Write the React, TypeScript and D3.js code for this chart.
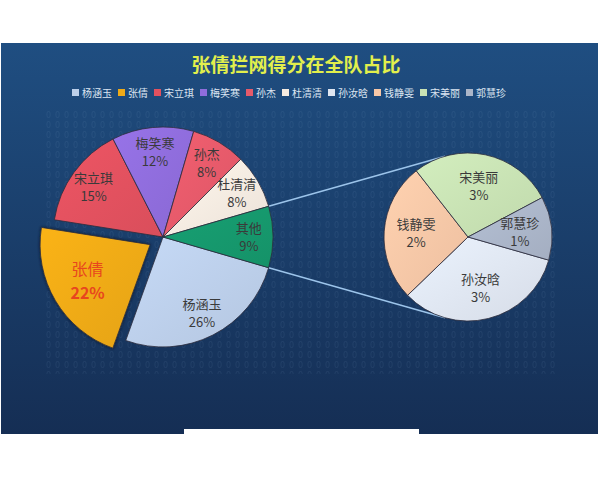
import React, { useEffect, useRef } from 'react';
import * as d3 from 'd3';

// chart data
const TITLE = "张倩拦网得分在全队占比";
const MAIN_NAMES = ["杨涵玉", "张倩", "宋立琪", "梅笑寒", "孙杰", "杜清清"];
const MAIN_VALUES = [26, 22, 15, 12, 8, 8];
const OTHER_LABEL = "其他";
const SUB_NAMES = ["孙汝晗", "钱静雯", "宋美丽", "郭慧珍"];
const SUB_VALUES = [3.0, 2.4, 2.5, 1.1];
const HIGHLIGHT = "张倩";

const COLORS: Record<string, string> = {
  "杨涵玉": "#bccfea",
  "张倩": "#eeaa18",
  "宋立琪": "#e2515f",
  "梅笑寒": "#8f6ddc",
  "孙杰": "#e65a6a",
  "杜清清": "#f5ebe1",
  "其他": "#16986d",
  "孙汝晗": "#dfe6f1",
  "钱静雯": "#f7c7a7",
  "宋美丽": "#c8e2b4",
  "郭慧珍": "#abb6c9",
};

const FONT = "'Noto Sans CJK SC', 'Noto Sans', sans-serif";

export default function App() {
  const svgRef = useRef<SVGSVGElement>(null);

  useEffect(() => {
    if (!svgRef.current) return;
    const svg = d3.select(svgRef.current);
    svg.selectAll("*").remove();

    const W = 600, H = 480;
    const defs = svg.append("defs");

    // background panel
    const bg = defs.append("linearGradient").attr("id", "bg")
      .attr("x1", 0).attr("y1", 0).attr("x2", 0).attr("y2", 1);
    bg.append("stop").attr("offset", "0%").attr("stop-color", "#1f4e81");
    bg.append("stop").attr("offset", "100%").attr("stop-color", "#152e54");

    const pat = defs.append("pattern").attr("id", "digits")
      .attr("width", 9).attr("height", 10).attr("patternUnits", "userSpaceOnUse");
    pat.append("text").attr("x", 1).attr("y", 8).text("0")
      .attr("fill", "#9ab8e0").attr("fill-opacity", 0.09)
      .style("font-size", "8px").style("font-family", "DejaVu Sans");

    defs.append("filter").attr("id", "shadow")
      .attr("x", "-20%").attr("y", "-20%").attr("width", "140%").attr("height", "140%")
      .append("feDropShadow").attr("dx", 0).attr("dy", 0).attr("stdDeviation", 1.6)
      .attr("flood-color", "#08162c").attr("flood-opacity", 0.9);

    svg.append("rect").attr("width", W).attr("height", H).attr("fill", "#fff");
    svg.append("rect").attr("x", 1).attr("y", 43).attr("width", 597).attr("height", 391)
      .attr("fill", "url(#bg)");
    svg.append("rect").attr("x", 184).attr("y", 429).attr("width", 235).attr("height", 6)
      .attr("fill", "#fff");
    svg.append("rect").attr("x", 46).attr("y", 108).attr("width", 510).attr("height", 266)
      .attr("fill", "url(#digits)");

    // title
    svg.append("text").attr("x", 296).attr("y", 72).attr("text-anchor", "middle")
      .text(TITLE)
      .attr("fill", "#e2ef4c")
      .style("font-size", "19px").style("font-weight", "bold").style("font-family", FONT);

    // legend
    const legendNames = MAIN_NAMES.concat(SUB_NAMES);
    const legend = svg.append("g");
    let lx = 0;
    legendNames.forEach(n => {
      const item = legend.append("g").attr("transform", `translate(${lx},0)`);
      item.append("rect").attr("x", 0).attr("y", -4).attr("width", 7).attr("height", 7)
        .attr("fill", COLORS[n]);
      const t = item.append("text").attr("x", 10).attr("y", 4).text(n)
        .attr("fill", "#dbe5f1")
        .style("font-size", "10px").style("font-family", FONT);
      const w = (t.node() as SVGTextElement).getComputedTextLength();
      lx += 10 + w + 6;
    });
    legend.attr("transform", `translate(${289 - (lx - 6) / 2},93)`);

    const total = d3.sum(MAIN_VALUES) + d3.sum(SUB_VALUES);
    const otherSum = d3.sum(SUB_VALUES);
    const pct = (v: number) => `${Math.round(v / total * 100)}%`;

    const mainData = MAIN_NAMES.map((n, i) => ({ name: n, value: MAIN_VALUES[i] }))
      .concat([{ name: OTHER_LABEL, value: otherSum }]);
    const subData = SUB_NAMES.map((n, i) => ({ name: n, value: SUB_VALUES[i] }));

    const cx1 = 163, cy1 = 237, r1 = 110;
    const cx2 = 468, cy2 = 237, r2 = 84;

    // "其他" slice is centered on the right side
    const start1 = Math.PI / 2 + Math.PI * otherSum / total;
    const start2 = 106 * Math.PI / 180;

    const pie1 = d3.pie<any>().value(d => d.value).sort(null)
      .startAngle(start1).endAngle(start1 + 2 * Math.PI);
    const pie2 = d3.pie<any>().value(d => d.value).sort(null)
      .startAngle(start2).endAngle(start2 + 2 * Math.PI);

    const arcs1 = pie1(mainData);
    const arcs2 = pie2(subData);

    // connector lines, tangent to second pie
    const other = arcs1.find(a => a.data.name === OTHER_LABEL)!;
    const onMain = (a: number) => [cx1 + r1 * Math.sin(a), cy1 - r1 * Math.cos(a)];
    const tangent = (p: number[], upper: boolean) => {
      const dx = p[0] - cx2, dy = p[1] - cy2;
      const d = Math.hypot(dx, dy);
      const th = Math.atan2(dy, dx);
      const al = Math.acos(r2 / d);
      const t1 = [cx2 + r2 * Math.cos(th + al), cy2 + r2 * Math.sin(th + al)];
      const t2 = [cx2 + r2 * Math.cos(th - al), cy2 + r2 * Math.sin(th - al)];
      return upper ? (t1[1] < t2[1] ? t1 : t2) : (t1[1] > t2[1] ? t1 : t2);
    };
    [[onMain(other.startAngle), true], [onMain(other.endAngle), false]].forEach(([p, up]: any) => {
      const t = tangent(p, up);
      svg.append("line")
        .attr("x1", p[0]).attr("y1", p[1]).attr("x2", t[0]).attr("y2", t[1])
        .attr("stroke", "#9cc4ea").attr("stroke-width", 1.5);
    });

    // slice gradients
    Object.keys(COLORS).forEach((n, i) => {
      const c = d3.color(COLORS[n])!;
      const g = defs.append("linearGradient").attr("id", `sg${i}`)
        .attr("x1", 0).attr("y1", 0).attr("x2", 1).attr("y2", 1);
      g.append("stop").attr("offset", "0%").attr("stop-color", c.brighter(0.15).formatHex());
      g.append("stop").attr("offset", "100%").attr("stop-color", c.darker(0.12).formatHex());
    });
    const fillOf = (n: string) => `url(#sg${Object.keys(COLORS).indexOf(n)})`;

    const drawPie = (arcs: any[], cx: number, cy: number, r: number, labelR: number) => {
      const arc = d3.arc<any>().innerRadius(0).outerRadius(r);
      const g = svg.append("g").attr("transform", `translate(${cx},${cy})`);
      arcs.forEach(a => {
        const hi = a.data.name === HIGHLIGHT;
        const mid = (a.startAngle + a.endAngle) / 2;
        const off = hi ? 15 : 0;
        const sg = g.append("g")
          .attr("transform", `translate(${Math.sin(mid) * off},${-Math.cos(mid) * off})`);
        sg.append("path").attr("d", arc(a))
          .attr("fill", fillOf(a.data.name))
          .attr("stroke", "#2c2c3c").attr("stroke-width", 0.8)
          .attr("filter", hi ? "url(#shadow)" : null);

        const lr = hi ? r * 0.66 : labelR;
        const lArc = d3.arc<any>().innerRadius(lr).outerRadius(lr);
        const [x, y] = lArc.centroid(a);
        const color = hi ? "#e8461e" : "#3a3a3a";
        const fs = hi ? 16 : 13;
        sg.append("text").attr("x", x).attr("y", hi ? y - 7 : y - 4)
          .attr("text-anchor", "middle").text(a.data.name)
          .attr("fill", color)
          .style("font-size", `${fs}px`).style("font-family", FONT);
        sg.append("text").attr("x", x).attr("y", hi ? y + 17 : y + 14)
          .attr("text-anchor", "middle").text(pct(a.data.value))
          .attr("fill", color)
          .style("font-size", `${fs}px`).style("font-weight", hi ? "bold" : "normal")
          .style("font-family", FONT);
      });
    };

    drawPie(arcs1, cx1, cy1, r1, r1 * 0.78);
    drawPie(arcs2, cx2, cy2, r2, r2 * 0.62);
  }, []);

  return (
    <svg ref={svgRef} width={600} height={480}
      style={{ position: "absolute", left: 0, top: 0, display: "block" }} />
  );
}
